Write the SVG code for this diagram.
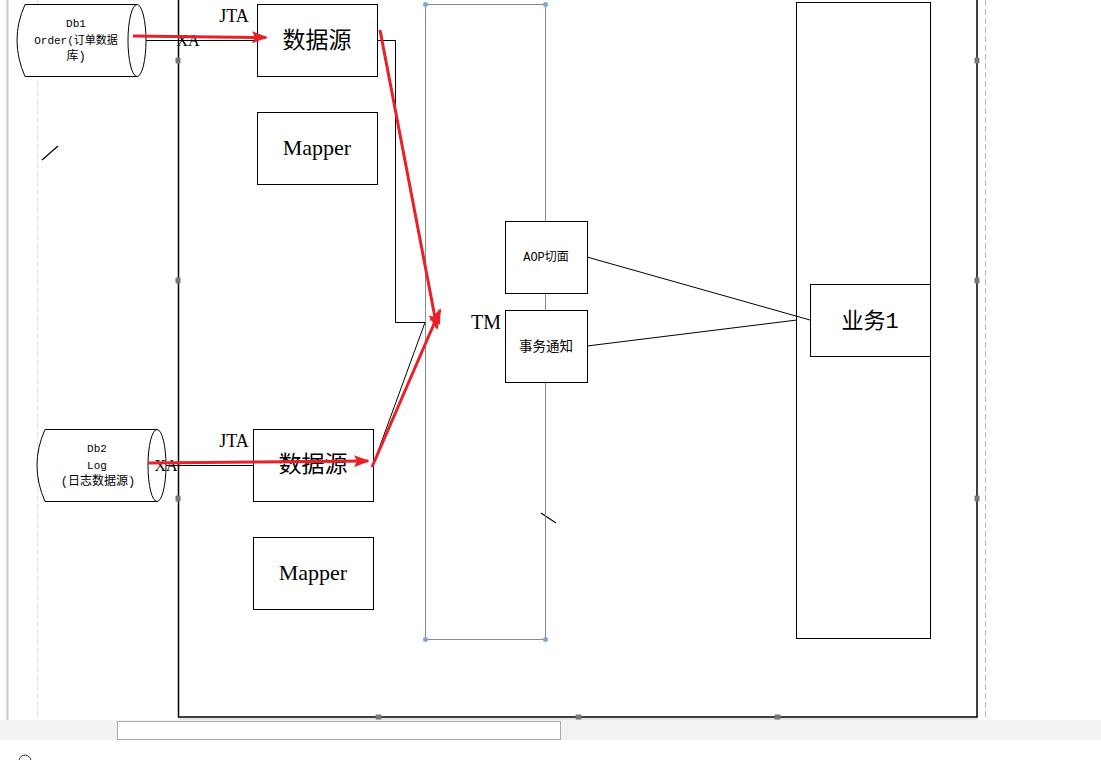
<svg xmlns="http://www.w3.org/2000/svg" width="1101" height="760" viewBox="0 0 1101 760">
<style>
.box{fill:#fff;stroke:#000;stroke-width:1}
.ln{fill:none;stroke:#000;stroke-width:1}
.red{fill:none;stroke:#e8202a;stroke-width:3}
.t{font-family:"Liberation Mono","Noto Sans CJK SC",monospace;fill:#000;text-anchor:middle}
.s{font-family:"Liberation Serif","Noto Sans CJK SC",serif;fill:#000;text-anchor:middle}
.h{fill:#777}
.bh{fill:#7aa7e0}
</style>
<defs>
<marker id="ah2" viewBox="0 0 16 12" refX="14" refY="6" markerWidth="16" markerHeight="12" orient="auto" markerUnits="userSpaceOnUse">
<path d="M0,0 L16,6 L0,12 L3,6 Z" fill="#e8202a"/>
</marker>
</defs>
<rect x="0" y="0" width="1101" height="760" fill="#fff"/>
<g id="page">
<line x1="7.5" y1="0" x2="7.5" y2="720" stroke="#c8c8c8" stroke-width="2"/>
<line x1="37.5" y1="0" x2="37.5" y2="720" stroke="#e2e2e2" stroke-width="1" stroke-dasharray="6,3"/>
<line x1="985.5" y1="0" x2="985.5" y2="720" stroke="#b8b8b8" stroke-width="1" stroke-dasharray="6,3"/>
<path d="M178.5,-5 L178.5,717 L977,717 L977,-5" fill="none" stroke="#000" stroke-width="1.5"/>
<line x1="179" y1="719" x2="978" y2="719" stroke="#ddd" stroke-width="1.5"/>
<rect class="h" x="175.5" y="57.5" width="5" height="6" rx="1"/>
<rect class="h" x="175.5" y="277.5" width="5" height="6" rx="1"/>
<rect class="h" x="175.5" y="495.5" width="5" height="6" rx="1"/>
<rect class="h" x="974.5" y="57.5" width="5" height="6" rx="1"/>
<rect class="h" x="974.5" y="277.5" width="5" height="6" rx="1"/>
<rect class="h" x="974.5" y="495.5" width="5" height="6" rx="1"/>
<rect class="h" x="375.5" y="714.5" width="6" height="5" rx="1"/>
<rect class="h" x="575.5" y="714.5" width="6" height="5" rx="1"/>
<rect class="h" x="774.5" y="714.5" width="6" height="5" rx="1"/>
<line x1="42" y1="160" x2="58" y2="146" stroke="#000" stroke-width="1.2"/>
<line x1="541" y1="513" x2="556" y2="523" stroke="#000" stroke-width="1.2"/>
<rect x="0" y="720" width="1101" height="20" fill="#f2f2f2"/>
<rect x="117.5" y="721.5" width="443" height="18" fill="#fff" stroke="#aaa"/>
<circle cx="25" cy="761" r="6" fill="none" stroke="#333" stroke-width="1"/>
</g>
<g id="tm">
<rect x="425.5" y="4.5" width="120" height="635" fill="none" stroke="#8a8a8a" stroke-width="1"/>
<circle class="bh" cx="425.5" cy="4.5" r="2.5"/>
<circle class="bh" cx="545.5" cy="4.5" r="2.5"/>
<circle class="bh" cx="425.5" cy="639.5" r="2.5"/>
<circle class="bh" cx="545.5" cy="639.5" r="2.5"/>
<text class="s" x="486" y="329" font-size="20">TM</text>
</g>
<g id="biz">
<rect class="box" x="796.5" y="2.5" width="134" height="636" fill="none"/>
</g>
<g id="db1">
<path d="M25,4.5 L137,4.5 A9,36 0 0 1 137,76.5 L25,76.5 Q9,40 25,4.5 Z" class="box" stroke="#333"/>
<path d="M137,4.5 A9,36 0 0 0 137,76.5" class="ln" stroke="#333"/>
<text class="t" x="76" y="27" font-size="11">Db1</text>
<text class="t" x="76" y="44" font-size="11">Order(订单数据</text>
<text class="t" x="76" y="60" font-size="12">库)</text>
</g>
<g id="db2">
<path d="M45,429.5 L157,429.5 A9,36 0 0 1 157,501.5 L45,501.5 Q29,465 45,429.5 Z" class="box" stroke="#333"/>
<path d="M157,429.5 A9,36 0 0 0 157,501.5" class="ln" stroke="#333"/>
<text class="t" x="97" y="452" font-size="11">Db2</text>
<text class="t" x="97" y="469" font-size="11">Log</text>
<text class="t" x="98" y="485" font-size="12">(日志数据源)</text>
</g>
<g id="ds1">
<rect class="box" x="257.5" y="4.5" width="120" height="72"/>
<text class="t" x="317" y="48" font-size="23">数据源</text>
</g>
<g id="mapper1">
<rect class="box" x="257.5" y="112.5" width="120" height="72"/>
<text class="s" x="317" y="155" font-size="22">Mapper</text>
</g>
<g id="ds2">
<rect class="box" x="253.5" y="429.5" width="120" height="72"/>
<text class="t" x="313" y="472" font-size="23">数据源</text>
</g>
<g id="mapper2">
<rect class="box" x="253.5" y="537.5" width="120" height="72"/>
<text class="s" x="313" y="580" font-size="22">Mapper</text>
</g>
<g id="aop">
<rect class="box" x="505.5" y="221.5" width="82" height="72"/>
<text class="t" x="546" y="261" font-size="12">AOP切面</text>
</g>
<g id="notify">
<rect class="box" x="505.5" y="310.5" width="82" height="72"/>
<text class="t" x="546" y="351" font-size="13.5">事务通知</text>
</g>
<g id="biz1">
<rect class="box" x="810.5" y="284.5" width="120" height="72"/>
<text class="t" x="870" y="328" font-size="22">业务1</text>
</g>
<g id="labels">
<text class="s" x="234" y="22" font-size="18">JTA</text>
<text class="s" x="234" y="447" font-size="18">JTA</text>
<text class="s" x="188" y="46" font-size="16">XA</text>
<text class="s" x="166" y="471" font-size="16">XA</text>
</g>
<g id="connectors">
<path class="ln" d="M146,40.5 L257,40.5"/>
<path class="ln" d="M166,465.5 L253,465.5"/>
<path class="ln" d="M377,40.5 L395.5,40.5 L395.5,322.5 L425,322.5 L373,465"/>
<path class="ln" d="M587,257 L810,320"/>
<path class="ln" d="M587,346 L797,320"/>
<path class="red" d="M133,36 L266,37.5" marker-end="url(#ah2)"/>
<path class="red" d="M148,463 L368,461" marker-end="url(#ah2)"/>
<path class="red" d="M380,30 L437,328" marker-end="url(#ah2)"/>
<path class="red" d="M372,467 L440,310" marker-end="url(#ah2)"/>
</g>
</svg>
